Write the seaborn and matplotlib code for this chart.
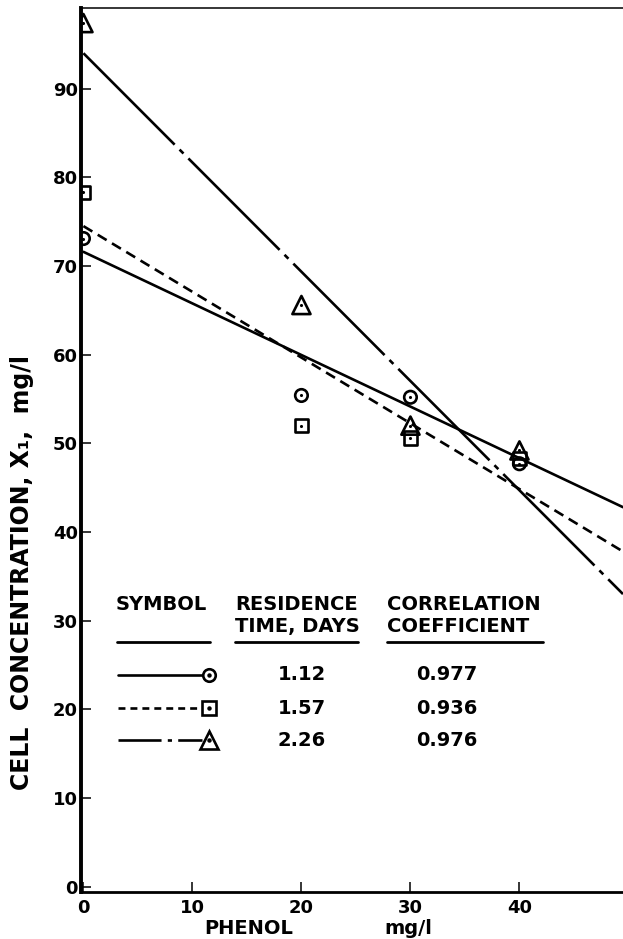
import matplotlib
matplotlib.use("Agg")
import matplotlib.pyplot as plt
import seaborn as sns
from matplotlib.lines import Line2D

# Measured cell concentrations (mg/l) at each phenol feed level (mg/l)
phenol = [0, 20, 30, 40]
cells_112 = [73.1, 55.4, 55.2, 47.7]
cells_157 = [78.3, 52.0, 50.6, 48.3]
cells_226 = [97.4, 65.6, 52.0, 49.2]

# Fitted straight lines (value at each end of the phenol range)
fit_phenol = [0, 49.5]
fit_112 = [71.6, 42.8]
fit_157 = [74.5, 37.8]
fit_226 = [94.0, 33.0]

# Table entries
residence_days = ["1.12", "1.57", "2.26"]
correlation = ["0.977", "0.936", "0.976"]

x_ticks = [0, 10, 20, 30, 40]
x_ticklabels = ["0", "10", "20", "30", "40"]
y_ticks = [0, 10, 20, 30, 40, 50, 60, 70, 80, 90]

sns.set_style("ticks")
plt.rcParams["font.family"] = ["DejaVu Sans"]
plt.rcParams["font.weight"] = "bold"
plt.rcParams["lines.scale_dashes"] = False
plt.rcParams["text.color"] = "black"
plt.rcParams["axes.labelcolor"] = "black"
plt.rcParams["xtick.color"] = "black"
plt.rcParams["ytick.color"] = "black"
plt.rcParams["xtick.labelcolor"] = "black"
plt.rcParams["ytick.labelcolor"] = "black"

W, H = 623, 939
fig = plt.figure(figsize=(W / 100, H / 100), dpi=100)


def fx(px):
    return px / W


def fy(py):
    return 1 - py / H


ax = fig.add_axes([fx(80.7), fy(892), 1 - fx(80.7), (892 - 8) / H])
ax.set_xlim(-0.25, 49.5)
ax.set_ylim(-0.6, 99.1)

solid = "-"
dashed = (0, (7.5, 4.5))
dashdot = (0, (93, 5, 4, 5))

series = [
    (cells_112, fit_112, solid, "o", 81),
    (cells_157, fit_157, dashed, "s", 90),
    (cells_226, fit_226, dashdot, "^", 170),
]

for cells, fit, ls, mk, size in series:
    sns.lineplot(x=fit_phenol, y=fit, ax=ax, color="black", linewidth=1.9,
                 linestyle=ls, sort=False, zorder=2)
    sns.scatterplot(x=phenol, y=cells, ax=ax, marker=mk, s=size,
                    color="black", edgecolor="black", linewidth=1.9,
                    zorder=3, legend=False)
    ax.collections[-1].set_facecolor("none")
    sns.scatterplot(x=phenol, y=cells, ax=ax, marker="o", s=5,
                    color="black", linewidth=0, zorder=4, legend=False)

ax.set_xticks(x_ticks)
ax.set_xticklabels(x_ticklabels)
ax.set_yticks(y_ticks)
ax.tick_params(axis="both", direction="in", length=7.5, width=1.1,
               labelsize=13, colors="black", labelcolor="black")
ax.tick_params(axis="x", pad=5)
ax.tick_params(axis="y", pad=2)
for lab in ax.get_xticklabels() + ax.get_yticklabels():
    lab.set_fontweight("bold")
    lab.set_color("black")

ax.spines["right"].set_visible(False)
ax.spines["left"].set_linewidth(2.8)
ax.spines["bottom"].set_linewidth(2.0)
ax.spines["top"].set_linewidth(1.1)
for sp in ax.spines.values():
    sp.set_color("black")
ax.set_xlabel("")
ax.set_ylabel("")

# Axis titles
fig.text(fx(22.5), fy(790), "CELL  CONCENTRATION, X\u2081,  mg/l",
         rotation=90, ha="center", va="bottom", fontsize=17,
         fontweight="bold", color="black")
fig.text(fx(249), fy(934), "PHENOL", ha="center", va="baseline",
         fontsize=14, fontweight="bold", color="black")
fig.text(fx(408), fy(934), "mg/l", ha="center", va="baseline",
         fontsize=14, fontweight="bold", color="black")

# Symbol table
hdr = dict(fontsize=14, fontweight="bold", va="baseline", ha="left",
           color="black")
fig.text(fx(116), fy(610), "SYMBOL", **hdr)
fig.text(fx(235), fy(610), "RESIDENCE", **hdr)
fig.text(fx(235), fy(632), "TIME, DAYS", **hdr)
fig.text(fx(387), fy(610), "CORRELATION", **hdr)
fig.text(fx(387), fy(632), "COEFFICIENT", **hdr)

for x0, x1 in [(117, 210), (235, 358), (387, 543)]:
    fig.add_artist(Line2D([fx(x0), fx(x1)], [fy(642), fy(642)],
                          transform=fig.transFigure, color="black",
                          linewidth=2.0))

row_y = [675, 708, 740]
sample_styles = [solid, (0, (5, 3.6)), (0, (31, 4.5, 3, 4.5))]
sample_markers = [("o", 9), ("s", 9.5), ("^", 13)]
for i, ry in enumerate(row_y):
    fig.add_artist(Line2D([fx(118), fx(202)], [fy(ry), fy(ry)],
                          transform=fig.transFigure, color="black",
                          linewidth=1.9, linestyle=sample_styles[i]))
    mk, ms = sample_markers[i]
    fig.add_artist(Line2D([fx(209)], [fy(ry)], transform=fig.transFigure,
                          marker=mk, markersize=ms, markerfacecolor="none",
                          markeredgecolor="black", markeredgewidth=1.9,
                          linestyle="none"))
    fig.add_artist(Line2D([fx(209)], [fy(ry)], transform=fig.transFigure,
                          marker="o", markersize=2.2, color="black",
                          linestyle="none"))
    fig.text(fx(302), fy(ry), residence_days[i], ha="center", va="center",
             fontsize=14, fontweight="bold", color="black")
    fig.text(fx(447), fy(ry), correlation[i], ha="center", va="center",
             fontsize=14, fontweight="bold", color="black")

fig.savefig("out.png", dpi=100)
